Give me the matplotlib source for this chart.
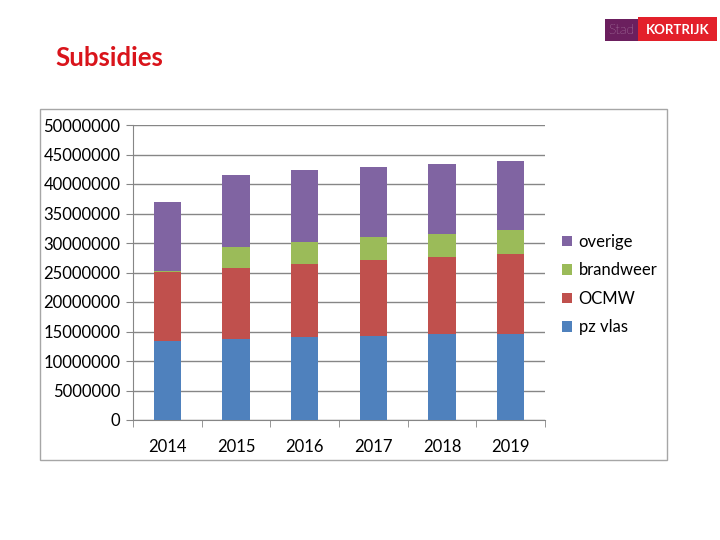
import matplotlib

matplotlib.use("Agg")
import matplotlib.pyplot as plt
import numpy as np
from matplotlib.patches import Rectangle

years = ["2014", "2015", "2016", "2017", "2018", "2019"]
pz_vlas = [13.4e6, 13.8e6, 14.1e6, 14.2e6, 14.5e6, 14.6e6]
ocmw = [11.7e6, 12.0e6, 12.3e6, 12.9e6, 13.1e6, 13.5e6]
brandweer = [0.1e6, 3.5e6, 3.8e6, 3.9e6, 3.9e6, 4.1e6]
overige = [11.7e6, 12.2e6, 12.2e6, 11.9e6, 11.9e6, 11.7e6]

series = [("pz vlas", pz_vlas, "#4f81bd"),
          ("OCMW", ocmw, "#c0504d"),
          ("brandweer", brandweer, "#9bbb59"),
          ("overige", overige, "#8064a2")]

plt.rcParams["font.family"] = ["Lato", "DejaVu Sans"]

fig = plt.figure(figsize=(7.2, 5.4), dpi=100)

# grey frame round the chart area
fig.patches.append(Rectangle((40 / 720, 1 - 460 / 540), 627 / 720, 351 / 540,
                             transform=fig.transFigure, fill=False,
                             edgecolor="#a6a6a6", lw=1))

# title and logo
fig.text(55 / 720, 1 - 66 / 540, "Subsidies", color="#d9141b", fontsize=18.5,
         fontweight="bold", ha="left", va="baseline")
fig.patches.append(Rectangle((605 / 720, 1 - 41 / 540), 33 / 720, 22 / 540,
                             transform=fig.transFigure, color="#6b1f5e", lw=0))
fig.patches.append(Rectangle((638 / 720, 1 - 41 / 540), 79 / 720, 24 / 540,
                             transform=fig.transFigure, color="#e3202a", lw=0))
fig.text(621.5 / 720, 1 - 30.5 / 540, "Stad", color="#f0e4f0", fontsize=10,
         ha="center", va="center", fontweight="light")
fig.text(677.5 / 720, 1 - 29.5 / 540, "KORTRIJK", color="white", fontsize=9.5,
         ha="center", va="center", fontweight="bold")

ax = fig.add_axes([133 / 720, 1 - 420 / 540, 412 / 720, 295 / 540])
x = np.arange(len(years))
bottom = np.zeros(len(years))
handles = []
for name, vals, col in series:
    b = ax.bar(x, vals, width=0.4, bottom=bottom, color=col, label=name, zorder=3)
    handles.append(b)
    bottom += np.array(vals)

ax.set_xlim(-0.5, len(years) - 0.5)
ax.set_ylim(0, 50000000)
ax.set_yticks(np.arange(0, 50000001, 5000000))
ax.set_yticklabels([str(v) for v in range(0, 50000001, 5000000)])
ax.yaxis.grid(True, color="#868686", lw=1, zorder=0)
ax.set_xticks(x)
ax.set_xticklabels(years)
ax.set_xticks(np.arange(-0.5, len(years)), minor=True)
ax.tick_params(axis="x", which="major", length=0, pad=14, labelsize=12)
ax.tick_params(axis="x", which="minor", length=5, color="#868686")
ax.tick_params(axis="y", length=5, color="#868686", labelsize=12, pad=4)
for s in ["top", "right"]:
    ax.spines[s].set_visible(False)
for s in ["left", "bottom"]:
    ax.spines[s].set_color("#868686")

leg = ax.legend(handles[::-1], [s[0] for s in series][::-1],
                loc="center left", bbox_to_anchor=(1.041, 0.459), frameon=False,
                fontsize=12, handlelength=0.6, handleheight=0.6,
                handletextpad=0.4, labelspacing=0.75, borderpad=0,
                borderaxespad=0)

fig.savefig("out.png", dpi=100)
